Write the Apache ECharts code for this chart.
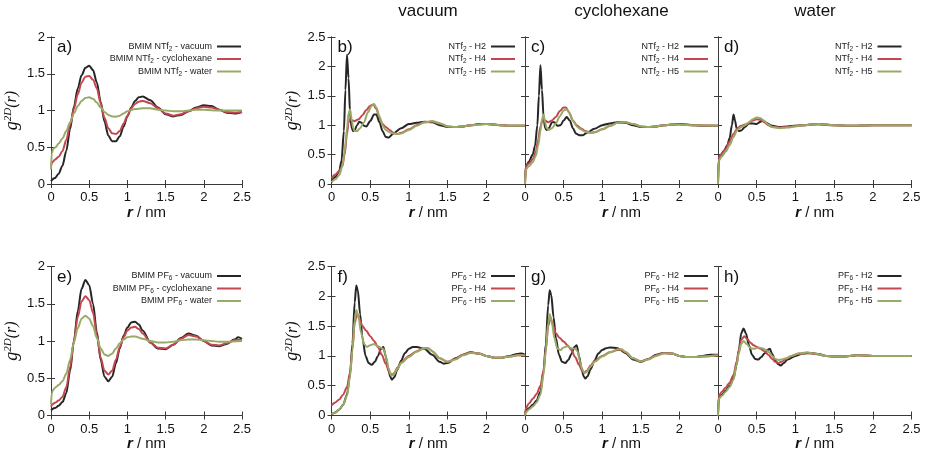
<!DOCTYPE html>
<html><head><meta charset="utf-8">
<script src="https://cdn.jsdelivr.net/npm/echarts@6/dist/echarts.min.js"></script>
<style>html,body{margin:0;padding:0;background:#fff}#c{width:926px;height:462px}</style>
</head><body><div id="c"></div><script>
// ---------- data: [r (nm), g2D(r)] ----------
const columnTitles = ['vacuum', 'cyclohexane', 'water'];
const xTicks = [0, 0.5, 1, 1.5, 2, 2.5];

const a_vac = [[0,0.04],[0.05,0.08],[0.1,0.14],[0.15,0.25],[0.2,0.45],[0.25,0.75],[0.3,1.05],[0.35,1.3],[0.4,1.48],[0.45,1.58],[0.5,1.61],[0.55,1.55],[0.6,1.38],[0.65,1.12],[0.7,0.85],[0.75,0.66],[0.8,0.58],[0.85,0.58],[0.9,0.65],[0.95,0.78],[1.0,0.92],[1.05,1.04],[1.1,1.13],[1.15,1.18],[1.2,1.19],[1.3,1.14],[1.4,1.04],[1.5,0.95],[1.6,0.92],[1.7,0.94],[1.8,0.99],[1.9,1.04],[2.0,1.07],[2.1,1.06],[2.2,1.01],[2.3,0.97],[2.4,0.96],[2.5,0.98]];
const a_cyc = [[0,0.25],[0.02,0.3],[0.05,0.33],[0.1,0.37],[0.15,0.45],[0.2,0.6],[0.25,0.8],[0.3,1.02],[0.35,1.22],[0.4,1.38],[0.45,1.46],[0.5,1.47],[0.55,1.42],[0.6,1.3],[0.65,1.1],[0.7,0.9],[0.75,0.76],[0.8,0.69],[0.85,0.68],[0.9,0.72],[0.95,0.82],[1.0,0.93],[1.05,1.03],[1.1,1.09],[1.15,1.12],[1.2,1.13],[1.3,1.1],[1.4,1.03],[1.5,0.96],[1.6,0.93],[1.7,0.95],[1.8,0.99],[1.9,1.03],[2.0,1.05],[2.1,1.04],[2.2,1.01],[2.3,0.98],[2.4,0.97],[2.5,0.98]];
const a_wat = [[0,0.2],[0.01,0.42],[0.03,0.48],[0.06,0.5],[0.1,0.55],[0.15,0.62],[0.2,0.72],[0.25,0.84],[0.3,0.96],[0.35,1.06],[0.4,1.13],[0.45,1.17],[0.5,1.18],[0.55,1.16],[0.6,1.11],[0.65,1.04],[0.7,0.98],[0.75,0.94],[0.8,0.92],[0.85,0.915],[0.9,0.93],[0.95,0.96],[1.0,0.99],[1.1,1.02],[1.2,1.03],[1.3,1.03],[1.4,1.01],[1.5,1.0],[1.6,0.99],[1.7,0.99],[1.8,1.0],[1.9,1.01],[2.0,1.01],[2.2,1.0],[2.5,1.0]];

const b_h2 = [[0,0.05],[0.05,0.12],[0.1,0.22],[0.13,0.4],[0.16,0.9],[0.18,1.6],[0.2,2.2],[0.22,1.8],[0.24,1.2],[0.26,0.95],[0.28,0.9],[0.3,0.92],[0.33,1.0],[0.36,1.06],[0.39,1.04],[0.42,0.99],[0.45,0.98],[0.5,1.07],[0.55,1.18],[0.58,1.18],[0.62,1.05],[0.66,0.9],[0.7,0.8],[0.74,0.79],[0.8,0.86],[0.9,0.95],[1.0,1.02],[1.1,1.04],[1.2,1.06],[1.3,1.05],[1.4,1.0],[1.5,0.97],[1.6,0.97],[1.7,0.98],[1.8,1.0],[1.9,1.02],[2.0,1.02],[2.1,1.01],[2.2,1.0],[2.3,0.99],[2.4,0.99],[2.5,0.99]];
const b_h4 = [[0,0.1],[0.05,0.16],[0.1,0.22],[0.14,0.3],[0.17,0.5],[0.2,0.85],[0.22,1.05],[0.24,1.1],[0.27,1.08],[0.3,1.07],[0.35,1.1],[0.4,1.17],[0.45,1.26],[0.5,1.33],[0.54,1.35],[0.58,1.28],[0.62,1.12],[0.66,1.02],[0.7,0.97],[0.75,0.92],[0.8,0.87],[0.85,0.85],[0.9,0.87],[1.0,0.93],[1.1,1.0],[1.2,1.05],[1.3,1.06],[1.4,1.03],[1.5,0.98],[1.6,0.97],[1.7,0.98],[1.8,1.0],[1.9,1.01],[2.0,1.02],[2.1,1.01],[2.2,1.0],[2.3,0.99],[2.5,0.99]];
const b_h5 = [[0,0.03],[0.05,0.08],[0.1,0.15],[0.14,0.3],[0.17,0.55],[0.2,0.95],[0.22,1.2],[0.24,1.27],[0.26,1.1],[0.28,0.95],[0.3,0.9],[0.33,0.9],[0.37,0.95],[0.42,1.05],[0.47,1.22],[0.52,1.33],[0.55,1.36],[0.58,1.3],[0.62,1.15],[0.66,1.0],[0.7,0.92],[0.75,0.88],[0.8,0.86],[0.85,0.85],[0.9,0.86],[1.0,0.92],[1.1,0.99],[1.2,1.05],[1.3,1.07],[1.4,1.03],[1.5,0.98],[1.6,0.97],[1.7,0.98],[1.8,1.0],[1.9,1.01],[2.0,1.02],[2.1,1.01],[2.2,1.0],[2.3,0.99],[2.5,0.99]];

const c_h2 = [[0,0.0],[0.01,0.3],[0.05,0.38],[0.1,0.5],[0.13,0.65],[0.16,1.0],[0.18,1.5],[0.2,2.02],[0.22,1.6],[0.24,1.15],[0.26,0.95],[0.28,0.92],[0.31,0.95],[0.35,1.05],[0.38,1.05],[0.42,0.99],[0.46,1.0],[0.5,1.08],[0.54,1.14],[0.58,1.08],[0.62,0.95],[0.66,0.86],[0.7,0.83],[0.75,0.83],[0.8,0.87],[0.9,0.94],[1.0,1.0],[1.1,1.03],[1.2,1.05],[1.3,1.04],[1.4,1.0],[1.5,0.97],[1.6,0.97],[1.7,0.98],[1.8,1.0],[1.9,1.01],[2.0,1.02],[2.1,1.01],[2.2,1.0],[2.3,0.99],[2.5,0.99]];
const c_h4 = [[0,0.0],[0.01,0.3],[0.05,0.35],[0.1,0.42],[0.14,0.55],[0.17,0.75],[0.2,0.98],[0.23,1.1],[0.26,1.08],[0.3,1.05],[0.35,1.08],[0.4,1.14],[0.45,1.24],[0.5,1.3],[0.53,1.3],[0.57,1.22],[0.62,1.08],[0.67,1.0],[0.72,0.95],[0.78,0.9],[0.85,0.87],[0.9,0.88],[1.0,0.93],[1.1,0.99],[1.2,1.04],[1.3,1.05],[1.4,1.02],[1.5,0.98],[1.6,0.97],[1.7,0.98],[1.8,1.0],[1.9,1.01],[2.0,1.01],[2.2,1.0],[2.5,0.99]];
const c_h5 = [[0,0.0],[0.01,0.25],[0.05,0.3],[0.1,0.37],[0.14,0.48],[0.17,0.65],[0.2,0.9],[0.22,1.1],[0.24,1.18],[0.26,1.05],[0.28,0.95],[0.31,0.92],[0.35,0.95],[0.4,1.03],[0.45,1.15],[0.5,1.25],[0.54,1.27],[0.58,1.2],[0.62,1.08],[0.67,0.98],[0.72,0.93],[0.78,0.89],[0.85,0.87],[0.9,0.88],[1.0,0.93],[1.1,0.99],[1.2,1.04],[1.3,1.05],[1.4,1.02],[1.5,0.98],[1.6,0.97],[1.7,0.98],[1.8,1.0],[1.9,1.01],[2.0,1.01],[2.2,1.0],[2.5,0.99]];

const d_h2 = [[0,0.0],[0.01,0.42],[0.04,0.5],[0.08,0.57],[0.12,0.66],[0.15,0.78],[0.18,1.0],[0.2,1.18],[0.22,1.08],[0.24,0.95],[0.27,0.9],[0.3,0.91],[0.35,0.97],[0.4,1.03],[0.45,1.03],[0.5,1.02],[0.55,1.06],[0.58,1.08],[0.62,1.04],[0.7,0.99],[0.8,0.97],[0.9,0.98],[1.0,0.99],[1.1,1.0],[1.2,1.01],[1.3,1.02],[1.4,1.01],[1.5,1.0],[1.7,0.99],[2.0,1.0],[2.5,1.0]];
const d_h4 = [[0,0.0],[0.01,0.45],[0.05,0.52],[0.1,0.6],[0.15,0.72],[0.2,0.85],[0.25,0.95],[0.3,0.99],[0.35,1.01],[0.4,1.04],[0.45,1.08],[0.5,1.1],[0.55,1.09],[0.6,1.05],[0.65,1.0],[0.7,0.97],[0.8,0.96],[0.9,0.97],[1.0,0.99],[1.1,1.0],[1.2,1.01],[1.3,1.01],[1.5,1.0],[1.7,0.99],[2.0,1.0],[2.5,1.0]];
const d_h5 = [[0,0.0],[0.01,0.4],[0.05,0.47],[0.1,0.55],[0.15,0.66],[0.2,0.8],[0.25,0.92],[0.3,0.97],[0.35,1.0],[0.4,1.05],[0.45,1.1],[0.5,1.13],[0.55,1.12],[0.6,1.07],[0.65,1.01],[0.7,0.97],[0.8,0.95],[0.9,0.96],[1.0,0.98],[1.1,1.0],[1.2,1.01],[1.3,1.02],[1.5,1.0],[1.7,0.99],[2.0,1.0],[2.5,1.0]];

const e_vac = [[0,0.07],[0.05,0.1],[0.1,0.13],[0.15,0.18],[0.2,0.3],[0.25,0.6],[0.3,1.0],[0.35,1.4],[0.4,1.7],[0.45,1.82],[0.5,1.75],[0.55,1.5],[0.6,1.12],[0.65,0.75],[0.7,0.52],[0.75,0.46],[0.8,0.52],[0.85,0.7],[0.9,0.9],[0.95,1.07],[1.0,1.18],[1.05,1.25],[1.1,1.26],[1.15,1.22],[1.2,1.14],[1.3,0.98],[1.4,0.9],[1.5,0.89],[1.6,0.95],[1.7,1.04],[1.8,1.1],[1.9,1.07],[2.0,1.0],[2.1,0.94],[2.2,0.93],[2.3,0.96],[2.4,1.02],[2.45,1.05],[2.5,1.03]];
const e_cyc = [[0,0.12],[0.02,0.15],[0.05,0.17],[0.1,0.2],[0.15,0.25],[0.2,0.38],[0.25,0.65],[0.3,1.0],[0.35,1.32],[0.4,1.53],[0.45,1.6],[0.5,1.55],[0.55,1.38],[0.6,1.08],[0.65,0.78],[0.7,0.6],[0.75,0.55],[0.8,0.6],[0.85,0.75],[0.9,0.92],[0.95,1.05],[1.0,1.14],[1.05,1.18],[1.1,1.19],[1.15,1.16],[1.2,1.1],[1.3,0.98],[1.4,0.91],[1.5,0.9],[1.6,0.95],[1.7,1.03],[1.8,1.08],[1.9,1.06],[2.0,1.0],[2.1,0.95],[2.2,0.94],[2.3,0.97],[2.4,1.01],[2.5,1.02]];
const e_wat = [[0,0.15],[0.01,0.3],[0.03,0.35],[0.06,0.38],[0.1,0.41],[0.15,0.46],[0.2,0.56],[0.25,0.75],[0.3,0.98],[0.35,1.17],[0.4,1.3],[0.45,1.34],[0.5,1.3],[0.55,1.2],[0.6,1.04],[0.65,0.9],[0.7,0.82],[0.75,0.8],[0.8,0.83],[0.85,0.9],[0.9,0.97],[0.95,1.02],[1.0,1.05],[1.05,1.06],[1.1,1.06],[1.2,1.03],[1.3,1.0],[1.4,0.98],[1.5,0.98],[1.6,0.99],[1.7,1.01],[1.8,1.02],[1.9,1.02],[2.0,1.01],[2.1,1.0],[2.2,0.99],[2.3,0.99],[2.5,1.0]];

const f_h2 = [[0,0.02],[0.05,0.05],[0.1,0.1],[0.15,0.18],[0.2,0.35],[0.24,0.7],[0.27,1.2],[0.3,1.9],[0.32,2.18],[0.34,2.1],[0.37,1.7],[0.4,1.3],[0.44,1.0],[0.48,0.88],[0.52,0.85],[0.56,0.9],[0.6,1.0],[0.64,1.12],[0.67,1.15],[0.7,1.0],[0.73,0.8],[0.76,0.65],[0.78,0.6],[0.81,0.64],[0.85,0.77],[0.9,0.92],[0.95,1.05],[1.0,1.12],[1.05,1.15],[1.1,1.15],[1.2,1.12],[1.3,1.02],[1.4,0.9],[1.45,0.87],[1.5,0.88],[1.6,0.96],[1.7,1.02],[1.8,1.06],[1.9,1.04],[2.0,1.0],[2.1,0.97],[2.2,0.97],[2.3,1.0],[2.4,1.03],[2.45,1.04],[2.5,1.02]];
const f_h4 = [[0,0.17],[0.05,0.22],[0.1,0.27],[0.15,0.35],[0.2,0.48],[0.24,0.72],[0.27,1.1],[0.3,1.55],[0.33,1.72],[0.36,1.62],[0.4,1.5],[0.45,1.42],[0.5,1.33],[0.55,1.25],[0.6,1.15],[0.65,1.02],[0.7,0.87],[0.75,0.72],[0.78,0.68],[0.81,0.71],[0.85,0.8],[0.9,0.89],[1.0,1.0],[1.1,1.08],[1.2,1.13],[1.25,1.13],[1.3,1.08],[1.4,0.96],[1.5,0.9],[1.6,0.95],[1.7,1.02],[1.8,1.06],[1.9,1.04],[2.0,1.0],[2.1,0.97],[2.2,0.97],[2.3,0.99],[2.4,1.01],[2.5,1.01]];
const f_h5 = [[0,0.02],[0.05,0.05],[0.1,0.1],[0.15,0.18],[0.2,0.33],[0.24,0.65],[0.27,1.1],[0.3,1.6],[0.32,1.77],[0.35,1.65],[0.38,1.4],[0.42,1.2],[0.46,1.15],[0.5,1.18],[0.55,1.2],[0.6,1.16],[0.65,1.13],[0.68,1.1],[0.71,0.95],[0.74,0.78],[0.77,0.67],[0.8,0.68],[0.85,0.78],[0.9,0.88],[1.0,0.98],[1.1,1.07],[1.2,1.13],[1.25,1.13],[1.3,1.08],[1.4,0.96],[1.5,0.9],[1.6,0.94],[1.7,1.01],[1.8,1.05],[1.9,1.04],[2.0,1.0],[2.1,0.97],[2.2,0.97],[2.3,0.99],[2.4,1.01],[2.5,1.01]];

const g_h2 = [[0,0.0],[0.01,0.08],[0.05,0.12],[0.1,0.18],[0.15,0.25],[0.2,0.4],[0.24,0.75],[0.27,1.2],[0.3,1.85],[0.32,2.1],[0.34,2.02],[0.37,1.65],[0.4,1.3],[0.44,1.02],[0.48,0.9],[0.52,0.88],[0.56,0.93],[0.6,1.03],[0.64,1.15],[0.67,1.18],[0.7,1.0],[0.73,0.8],[0.76,0.66],[0.78,0.62],[0.81,0.66],[0.85,0.78],[0.9,0.92],[0.95,1.04],[1.0,1.1],[1.05,1.13],[1.1,1.14],[1.2,1.13],[1.3,1.05],[1.4,0.94],[1.5,0.9],[1.6,0.95],[1.7,1.02],[1.8,1.05],[1.9,1.04],[2.0,1.0],[2.1,0.98],[2.2,0.98],[2.3,1.0],[2.4,1.02],[2.5,1.02]];
const g_h4 = [[0,0.0],[0.01,0.12],[0.05,0.2],[0.1,0.28],[0.15,0.36],[0.2,0.5],[0.24,0.75],[0.27,1.1],[0.3,1.5],[0.33,1.65],[0.36,1.52],[0.4,1.38],[0.45,1.3],[0.5,1.24],[0.55,1.18],[0.6,1.1],[0.65,0.98],[0.7,0.85],[0.74,0.75],[0.77,0.72],[0.8,0.75],[0.85,0.84],[0.9,0.91],[1.0,1.0],[1.1,1.06],[1.2,1.1],[1.25,1.1],[1.3,1.06],[1.4,0.96],[1.5,0.91],[1.6,0.95],[1.7,1.01],[1.8,1.05],[1.9,1.04],[2.0,1.0],[2.1,0.98],[2.2,0.98],[2.3,0.99],[2.5,1.01]];
const g_h5 = [[0,0.0],[0.01,0.05],[0.05,0.1],[0.1,0.15],[0.15,0.22],[0.2,0.35],[0.24,0.68],[0.27,1.1],[0.3,1.55],[0.32,1.7],[0.35,1.55],[0.38,1.3],[0.42,1.12],[0.46,1.1],[0.5,1.14],[0.55,1.16],[0.6,1.13],[0.65,1.12],[0.68,1.08],[0.71,0.92],[0.74,0.78],[0.77,0.71],[0.8,0.73],[0.85,0.82],[0.9,0.9],[1.0,0.99],[1.1,1.06],[1.2,1.11],[1.25,1.11],[1.3,1.07],[1.4,0.96],[1.5,0.91],[1.6,0.94],[1.7,1.0],[1.8,1.04],[1.9,1.04],[2.0,1.0],[2.1,0.98],[2.2,0.98],[2.3,0.99],[2.5,1.01]];

const h_h2 = [[0,0.0],[0.01,0.3],[0.05,0.35],[0.1,0.42],[0.15,0.5],[0.2,0.62],[0.24,0.85],[0.27,1.1],[0.3,1.38],[0.33,1.46],[0.36,1.38],[0.4,1.18],[0.44,1.02],[0.48,0.95],[0.52,0.94],[0.56,0.98],[0.6,1.04],[0.64,1.1],[0.67,1.12],[0.7,1.03],[0.74,0.92],[0.78,0.86],[0.81,0.84],[0.85,0.88],[0.9,0.94],[1.0,1.0],[1.1,1.04],[1.2,1.05],[1.3,1.03],[1.4,1.0],[1.5,0.99],[1.6,0.99],[1.8,1.01],[2.0,1.0],[2.5,1.0]];
const h_h4 = [[0,0.0],[0.01,0.33],[0.05,0.4],[0.1,0.47],[0.15,0.55],[0.2,0.68],[0.24,0.9],[0.27,1.1],[0.3,1.27],[0.34,1.33],[0.38,1.28],[0.42,1.22],[0.46,1.18],[0.5,1.15],[0.55,1.12],[0.6,1.08],[0.65,1.02],[0.7,0.95],[0.74,0.9],[0.78,0.88],[0.82,0.9],[0.88,0.95],[0.95,1.0],[1.05,1.04],[1.15,1.05],[1.25,1.03],[1.4,1.0],[1.5,0.99],[1.6,0.99],[1.8,1.01],[2.0,1.0],[2.5,1.0]];
const h_h5 = [[0,0.0],[0.01,0.28],[0.05,0.33],[0.1,0.4],[0.15,0.48],[0.2,0.6],[0.24,0.85],[0.27,1.05],[0.3,1.2],[0.33,1.25],[0.37,1.2],[0.42,1.13],[0.47,1.12],[0.52,1.14],[0.57,1.13],[0.62,1.1],[0.66,1.06],[0.7,1.0],[0.74,0.95],[0.78,0.93],[0.82,0.94],[0.88,0.96],[0.95,1.0],[1.05,1.04],[1.15,1.06],[1.25,1.04],[1.4,1.0],[1.5,0.99],[1.6,0.99],[1.8,1.01],[2.0,1.0],[2.5,1.0]];

const namesNTf2 = ['BMIM NTf2 - vacuum', 'BMIM NTf2 - cyclohexane', 'BMIM NTf2 - water'];
const namesPF6 = ['BMIM PF6 - vacuum', 'BMIM PF6 - cyclohexane', 'BMIM PF6 - water'];
const namesNTf2H = ['NTf2 - H2', 'NTf2 - H4', 'NTf2 - H5'];
const namesPF6H = ['PF6 - H2', 'PF6 - H4', 'PF6 - H5'];

// ---------- layout / style ----------
const COLORS = ['#262626', '#c4474f', '#97aa66'];
const FONT = 'Liberation Sans, Arial, sans-serif';
const W = 926;
const panels = [
  {lab:'a)', g:{left:51, top:37, width:191, height:147}, ymax:2, names:namesNTf2, data:[a_vac,a_cyc,a_wat], ylab:true, maxX:true, big:true},
  {lab:'b)', g:{left:331.5, top:37, width:193.5, height:147}, ymax:2.5, names:namesNTf2H, data:[b_h2,b_h4,b_h5], ylab:true, maxX:false},
  {lab:'c)', g:{left:525, top:37, width:193, height:147}, ymax:2.5, names:namesNTf2H, data:[c_h2,c_h4,c_h5], ylab:false, maxX:false},
  {lab:'d)', g:{left:718, top:37, width:193.5, height:147}, ymax:2.5, names:namesNTf2H, data:[d_h2,d_h4,d_h5], ylab:false, maxX:true},
  {lab:'e)', g:{left:51, top:266.5, width:191, height:149}, ymax:2, names:namesPF6, data:[e_vac,e_cyc,e_wat], ylab:true, maxX:true, big:true},
  {lab:'f)', g:{left:331.5, top:266.5, width:193.5, height:149}, ymax:2.5, names:namesPF6H, data:[f_h2,f_h4,f_h5], ylab:true, maxX:false},
  {lab:'g)', g:{left:525, top:266.5, width:193, height:149}, ymax:2.5, names:namesPF6H, data:[g_h2,g_h4,g_h5], ylab:false, maxX:false},
  {lab:'h)', g:{left:718, top:266.5, width:193.5, height:149}, ymax:2.5, names:namesPF6H, data:[h_h2,h_h4,h_h5], ylab:false, maxX:true}
];

const grid = [], xAxis = [], yAxis = [], series = [], legend = [], graphic = [];
const axisLine = {show:true, lineStyle:{color:'#3a3a3a', width:1}};
const tick = {show:true, inside:true, length:4, lineStyle:{color:'#3a3a3a'}};
const labStyle = {color:'#111', fontSize:13, fontFamily:FONT};

panels.forEach((p, i) => {
  grid.push(Object.assign({containLabel:false}, p.g));
  xAxis.push({type:'value', gridIndex:i, min:0, max:2.5, interval:0.5, position:'bottom',
    axisLine, axisTick:tick, splitLine:{show:false},
    axisLabel:Object.assign({margin:7, showMaxLabel:p.maxX, showMinLabel:true}, labStyle),
    name:'{i|r} / nm', nameLocation:'middle', nameGap:21,
    nameTextStyle:{fontSize:15, color:'#111', fontFamily:FONT, rich:{i:{fontSize:15, fontStyle:'italic', fontWeight:'bold', fontFamily:FONT, color:'#111'}}}
  });
  xAxis.push({type:'value', gridIndex:i, min:0, max:2.5, interval:0.5, position:'top',
    axisLine, axisTick:tick, splitLine:{show:false}, axisLabel:{show:false}});
  const yl = {type:'value', gridIndex:i, min:0, max:p.ymax, interval:0.5, position:'left',
    axisLine, axisTick:tick, splitLine:{show:false},
    axisLabel:Object.assign({show:p.ylab, margin:6}, labStyle)};
  if (p.ylab) {
    yl.name = '{g|g}{s|2D}{p|(r)}';
    yl.nameLocation = 'middle';
    yl.nameRotate = 90;
    yl.nameGap = 30;
    yl.nameTextStyle = {rich:{
      g:{fontSize:18, fontStyle:'italic', fontFamily:'Liberation Serif, serif', color:'#111'},
      s:{fontSize:11, fontStyle:'italic', fontFamily:'Liberation Serif, serif', color:'#111', verticalAlign:'top', lineHeight:12},
      p:{fontSize:16, fontStyle:'italic', fontFamily:'Liberation Serif, serif', color:'#111'}
    }};
  }
  yAxis.push(yl);
  yAxis.push({type:'value', gridIndex:i, min:0, max:p.ymax, interval:0.5, position:'right',
    axisLine, axisTick:tick, splitLine:{show:false}, axisLabel:{show:false}});

  p.names.forEach((nm, k) => {
    series.push({type:'line', name:nm, xAxisIndex:2*i, yAxisIndex:2*i, data:p.data[k],
      smooth:0.3, smoothMonotone:'x', showSymbol:false, symbol:'none', animation:false,
      lineStyle:{color:COLORS[k], width:2}, itemStyle:{color:COLORS[k]}, z:2+k});
  });

  const gridRight = p.g.left + p.g.width;
  legend.push({show:true, data:p.names, orient:'vertical', align:'right', padding:0,
    right: W - gridRight + (p.big ? 1 : 10), top: p.g.top + 5,
    icon:'rect', itemWidth:24, itemHeight:2, itemGap:2, selectedMode:false,
    textStyle:{fontSize:9, color:'#222', fontFamily:FONT,
      rich:{s:{fontSize:6.5, color:'#222', fontFamily:FONT, padding:[5,0,0,0]}}},
    formatter: n => n.replace('NTf2', 'NTf{s|2}').replace('PF6', 'PF{s|6}')
  });

  graphic.push({type:'text', left:p.g.left + 6, top:p.g.top + 2,
    style:{text:p.lab, fontSize:17, fill:'#111', fontFamily:FONT}});
});

const colCenters = [428, 621.5, 815];
columnTitles.forEach((t, j) => {
  graphic.push({type:'text', x:colCenters[j], y:3,
    style:{text:t, fontSize:17, fill:'#111', fontFamily:FONT, textAlign:'center', textVerticalAlign:'top'}});
});

const chart = echarts.init(document.getElementById('c'), null, {renderer:'canvas'});
chart.setOption({backgroundColor:'#fff', animation:false, grid, xAxis, yAxis, series, legend, graphic});
</script></body></html>
